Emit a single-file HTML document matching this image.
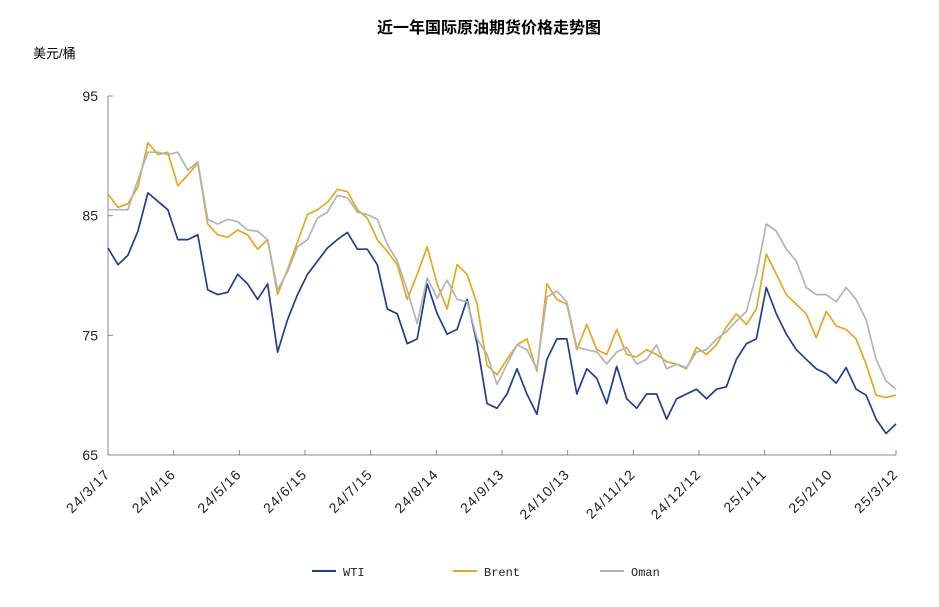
<!DOCTYPE html>
<html><head><meta charset="utf-8"><style>
body{margin:0;background:#fff;width:939px;height:602px;overflow:hidden;font-family:"Liberation Sans","Noto Sans CJK SC",sans-serif}
</style></head><body>
<svg id="chart" width="939" height="602" xmlns="http://www.w3.org/2000/svg">
<text x="489" y="33" text-anchor="middle" font-size="16" font-weight="bold" font-family="'Liberation Sans','Noto Sans CJK SC',sans-serif">近一年国际原油期货价格走势图</text>
<text x="33" y="58" font-size="13" font-family="'Liberation Sans','Noto Sans CJK SC',sans-serif">美元/桶</text>
</svg>
<script>
const xTickLabels=["24/3/17","24/4/16","24/5/16","24/6/15","24/7/15","24/8/14","24/9/13","24/10/13","24/11/12","24/12/12","25/1/11","25/2/10","25/3/12"];
const yTicks=[65,75,85,95];
const wti=[82.3,80.9,81.7,83.7,86.9,86.2,85.5,83.0,83.0,83.4,78.8,78.4,78.6,80.1,79.3,78.0,79.3,73.6,76.3,78.4,80.1,81.2,82.3,83.0,83.6,82.2,82.2,80.9,77.2,76.8,74.3,74.7,79.3,76.8,75.1,75.5,78.0,74.3,69.3,68.9,70.1,72.2,70.1,68.4,73.0,74.7,74.7,70.1,72.2,71.4,69.3,72.4,69.7,68.9,70.1,70.1,68.0,69.7,70.1,70.5,69.7,70.5,70.7,73.0,74.3,74.7,79.0,76.8,75.1,73.8,73.0,72.2,71.8,71.0,72.3,70.5,70.0,68.0,66.8,67.6];
const brent=[86.8,85.7,86.0,87.4,91.1,90.1,90.3,87.5,88.4,89.4,84.3,83.4,83.2,83.8,83.4,82.2,83.0,78.4,80.5,82.8,85.1,85.5,86.1,87.2,87.0,85.5,84.8,83.0,82.0,80.9,78.0,80.1,82.4,79.3,77.2,80.9,80.1,77.6,72.5,71.7,73.0,74.2,74.7,72.0,79.3,78.0,77.6,73.8,75.9,73.8,73.4,75.5,73.4,73.2,73.8,73.4,72.8,72.6,72.2,74.0,73.4,74.2,75.7,76.8,75.9,77.2,81.8,80.1,78.4,77.6,76.8,74.8,77.0,75.8,75.5,74.7,72.6,70.0,69.8,70.0];
const oman=[85.5,85.5,85.5,88.0,90.3,90.3,90.1,90.3,88.8,89.5,84.7,84.3,84.7,84.5,83.8,83.7,83.0,78.8,80.3,82.4,83.0,84.8,85.3,86.7,86.5,85.3,85.1,84.7,82.6,81.2,78.8,76.0,79.8,78.1,79.6,78.0,77.8,74.7,73.4,70.9,72.6,74.2,73.8,72.2,78.2,78.7,77.8,74.0,73.8,73.6,72.6,73.6,74.0,72.6,73.0,74.2,72.2,72.6,72.3,73.6,73.8,74.7,75.3,76.2,77.0,80.1,84.3,83.7,82.2,81.2,79.0,78.4,78.4,77.8,79.0,78.0,76.3,73.0,71.2,70.5];
const seriesNames=["WTI","Brent","Oman"];
const seriesColors=["#1f3f8f","#e6a81e","#b4b4b4"];

const X0=108,X1=896,Y0=455,Y1=96,VMIN=65,VMAX=95;
const NS="http://www.w3.org/2000/svg";
const svg=document.getElementById('chart');
function xIdx(i,n){return X0+(X1-X0)*i/(n-1);}
function yVal(v){return Y0-(v-VMIN)/(VMAX-VMIN)*(Y0-Y1);}
function mk(t,a){const e=document.createElementNS(NS,t);for(const k in a)e.setAttribute(k,a[k]);svg.appendChild(e);return e;}

const ya=mk('line',{x1:X0,y1:Y1,x2:X0,y2:Y0,stroke:'#888','stroke-width':1});


const xa=mk('line',{x1:X0,y1:Y0,x2:X1,y2:Y0,stroke:'#888','stroke-width':1});


yTicks.forEach(v=>{
  const y=yVal(v);
  const t=mk('line',{x1:X0,y1:y,x2:X0+5,y2:y,stroke:'#888'});
  
  
  const l=mk('text',{x:X0-10,y:y+5,'text-anchor':'end','font-size':14,fill:'#222'});
  l.textContent=v;
  
  
});
xTickLabels.forEach((s,i)=>{
  const x=xIdx(i,xTickLabels.length);
  const t=mk('line',{x1:x,y1:Y0,x2:x,y2:Y0-5,stroke:'#888'});
  
  
  const ax=x+3, ay=Y0+20;
  const l=mk('text',{x:ax,y:ay,'text-anchor':'end','font-size':14,'letter-spacing':'1.2',fill:'#222',transform:`rotate(-45 ${ax} ${ay})`});
  l.textContent=s;
  
  
});
[wti,brent,oman].forEach((arr,k)=>{
  const pts=arr.map((v,i)=>xIdx(i,arr.length).toFixed(1)+','+yVal(v).toFixed(1)).join(' ');
  const p=mk('polyline',{points:pts,fill:'none',stroke:seriesColors[k],'stroke-width':1.7,'stroke-linejoin':'round'});
  
  
});
const legX=[312,453,600];
seriesNames.forEach((n,k)=>{
  const l=mk('line',{x1:legX[k],y1:571,x2:legX[k]+24,y2:571,stroke:seriesColors[k],'stroke-width':2});
  
  
  const t=mk('text',{x:legX[k]+31,y:576,'font-size':12,fill:'#222','font-family':'Liberation Mono,monospace'});
  t.textContent=n;
  
  
});
</script>
</body></html>
